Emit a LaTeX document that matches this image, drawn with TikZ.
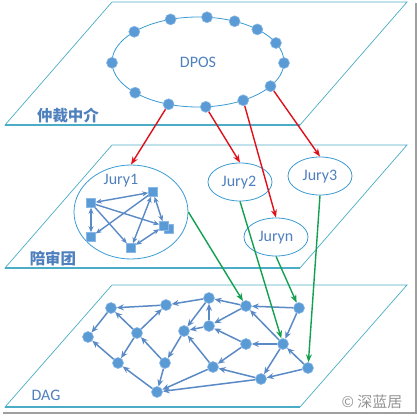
\documentclass[tikz,border=0pt]{standalone}
\usepackage{fontspec}
\setmainfont{Carlito}
\newfontfamily\cjk{Noto Sans CJK SC}
\usetikzlibrary{arrows.meta,shapes.geometric}
\definecolor{planec}{HTML}{4BACC6}
\definecolor{ellc}{HTML}{3A9AD2}
\definecolor{txtc}{HTML}{4F80BE}
\definecolor{dotc}{HTML}{5B9BD5}
\definecolor{dotedge}{HTML}{8AB8E6}
\definecolor{edgec}{HTML}{5A8AC6}
\definecolor{redc}{HTML}{E0101A}
\definecolor{greenc}{HTML}{12A050}
\begin{document}
\begin{tikzpicture}[x=1pt,y=-1pt,
  planeedge/.style={draw=planec, line width=0.7pt},
  planebase/.style={draw=planec, line width=1.6pt},
  ringell/.style={ellipse, draw=ellc, line width=0.8pt, inner sep=0pt},
  lbl/.style={text=txtc, font=\fontsize{16}{18}\selectfont, inner sep=0pt},
  cnlbl/.style={text=txtc, font=\fontsize{15.5}{18}\selectfont\cjk\bfseries, inner sep=0pt},
  dot/.style={circle, fill=dotc, draw=dotedge, line width=0.6pt, minimum size=11pt, inner sep=0pt},
  sq/.style={rectangle, fill=dotc, draw=dotedge, line width=0.5pt, minimum size=9pt, inner sep=0pt},
  dagedge/.style={draw=edgec, line width=1.5pt, -{Stealth[length=7pt,width=6pt]}},
  sqedge/.style={draw=edgec, line width=1.4pt, {Stealth[length=6pt,width=5pt]}-{Stealth[length=6pt,width=5pt]}},
  sqone/.style={draw=edgec, line width=1.4pt, -{Stealth[length=6pt,width=5pt]}},
  redarrow/.style={draw=redc, line width=1.4pt, -{Stealth[length=8pt,width=6pt]}},
  greenarrow/.style={draw=greenc, line width=1.4pt, -{Stealth[length=8pt,width=6pt]}}
]
\useasboundingbox (0,0) rectangle (417,418);
% frame shadow
\draw[gray!75, line width=1.6pt] (416,3) -- (416,413) -- (3,413);

% planes
\draw[planeedge] (112,2) -- (407,2) -- (300,125) -- (5,125) -- cycle;
\draw[planebase] (5,125) -- (300,125);
\draw[planeedge] (112,145) -- (407,145) -- (300,268) -- (5,268) -- cycle;
\draw[planebase] (5,268) -- (300,268);
\draw[planeedge] (112,285) -- (407,285) -- (300,407) -- (5,407) -- cycle;
\draw[planebase] (5,407) -- (300,407);

% plane labels
\node[cnlbl] (l1) at (68,115) {仲裁中介};
\node[cnlbl] (l2) at (53,258) {陪审团};
\node[lbl] (l3) at (46,395) {DAG};
\node[text=gray!85, font=\fontsize{15}{17}\selectfont\cjk, inner sep=0pt] (wm) at (372,402) {© 深蓝居};

% DPOS ring
\node[ringell, minimum width=172pt, minimum height=90pt] (dpos) at (198,62) {};
\node[lbl] (dpost) at (198,62) {DPOS};
\foreach \a [count=\i] in {108.6,84,64.8,46.4,25,-1.3,-32.5,-58.3,-84.8,-110,-137,181,137.8}
  \node[dot] (d\i) at ({198+86*cos(\a)},{62-45*sin(\a)}) {};

% juries
\node[ringell, minimum width=114pt, minimum height=94pt] (j1) at (131,212) {};
\node[lbl] (j1t) at (121,181) {Jury1};
\node[ringell, minimum width=64pt, minimum height=38pt] (j2) at (240,182) {};
\node[lbl] (j2t) at (239,183) {Jury2};
\node[ringell, minimum width=64pt, minimum height=38pt] (j3) at (320,176) {};
\node[lbl] (j3t) at (320,177) {Jury3};
\node[ringell, minimum width=64pt, minimum height=38pt] (jn) at (276,237) {};
\node[lbl] (jnt) at (276,238) {Juryn};

% squares inside Jury1
\node[sq] (sa) at (91,203) {};
\node[sq] (sb) at (153,192) {};
\node[sq] (sc2) at (169,229) {};
\node[sq] (sc) at (164,226) {};
\node[sq] (sd) at (131,248) {};
\node[sq] (se) at (91,237) {};
\draw[sqedge] (sa) -- (sb);
\draw[sqedge] (sa) -- (se);
\draw[sqone] (sa) -- (sc);
\draw[sqone] (sa) -- (sd);
\draw[sqone] (sb) -- (se);
\draw[sqedge] (sb) -- (sd);
\draw[sqedge] (sb) -- (sc);
\draw[sqedge] (sc) -- (sd);

% DAG nodes
\foreach \n/\x/\y in {1/111/308, 2/88/337, 3/137/333, 4/118/363, 5/166/305, 6/165/363,
  7/157/392, 8/184/331, 9/209/298, 10/209/326, 11/213/367, 12/246/306, 13/246/344,
  14/261/379, 15/283/344, 16/299/308, 17/308/368}
  \node[dot] (n\n) at (\x,\y) {};
\foreach \s/\t in {5/1, 1/2, 3/1, 3/5, 3/4, 4/2, 6/3, 6/7, 7/4, 8/6, 9/5, 12/9, 9/8,
  10/9, 10/8, 12/10, 16/12, 15/12, 16/15, 15/13, 13/10, 13/11, 15/14, 17/15, 17/14,
  14/11, 11/8, 14/7, 11/7}
  \draw[dagedge] (n\s) -- (n\t);

% red arrows
\draw[redarrow] (d10) -- (j1.north);
\draw[redarrow] (d9) -- (j2.north);
\draw[redarrow] (d8) -- (jn.north);
\draw[redarrow] (d7) -- (j3.north);

% green arrows
\draw[greenarrow] (j1.east) -- (n12);
\draw[greenarrow] (j2.south) -- (n15);
\draw[greenarrow] (jn.south) -- (n16);
\draw[greenarrow] (j3.south) -- (n17);
\end{tikzpicture}
\end{document}
